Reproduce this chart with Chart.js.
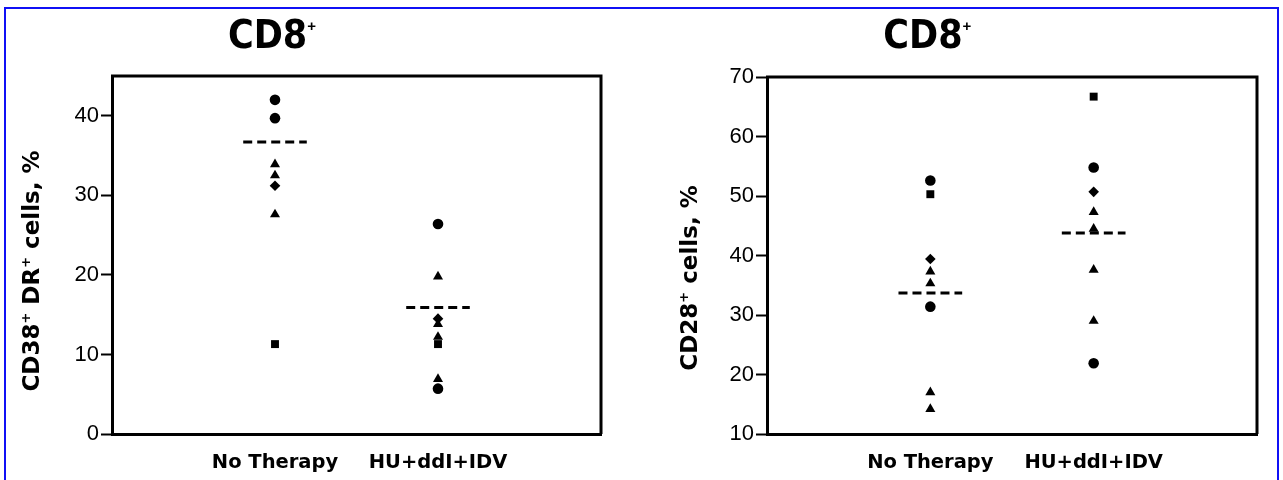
<!DOCTYPE html>
<html><head><meta charset="utf-8">
<script src="https://cdn.jsdelivr.net/npm/chart.js@4/dist/chart.umd.min.js"></script>
<style>
html,body{margin:0;padding:0;background:#fff;width:1283px;height:480px;overflow:hidden;}
#frame{position:absolute;left:4px;top:7px;width:1271px;height:490px;border:2px solid #1010f5;border-bottom:none;pointer-events:none;}
canvas{position:absolute;top:0;}
#c1{left:0}
#c2{left:640px}
</style></head><body>
<canvas id="c1" width="640" height="480"></canvas>
<canvas id="c2" width="643" height="480"></canvas>
<div id="frame"></div>
<script>
// ---------- data ----------
const categories = ['No Therapy', 'HU+ddI+IDV'];
const panelTitle = 'CD8';

// Panel 1: CD38+ DR+ cells, %   (each: [No Therapy values], [HU+ddI+IDV values])
const cd38Ticks     = [0, 10, 20, 30, 40];
const cd38Circles   = [[42.0, 39.7], [26.4, 5.7]];
const cd38Triangles = [[33.9, 32.5, 27.6], [19.8, 13.8, 12.2, 6.9]];
const cd38Diamonds  = [[31.2], [14.5]];
const cd38Squares   = [[11.3], [11.3]];
const cd38Medians   = [36.7, 15.9];

// Panel 2: CD28+ cells, %
const cd28Ticks     = [10, 20, 30, 40, 50, 60, 70];
const cd28Circles   = [[52.6, 31.4], [54.8, 21.9]];
const cd28Triangles = [[37.3, 35.3, 17.0, 14.2], [47.3, 44.5, 37.6, 29.0]];
const cd28Diamonds  = [[39.4], [50.7]];
const cd28Squares   = [[50.3], [66.7]];
const cd28Medians   = [33.7, 43.8];

// ---------- helpers ----------
const TICK_FONT = '"Liberation Sans", Arial, sans-serif';
const BOLD_FONT = '"DejaVu Sans", sans-serif';
const MEDIAN_HALF = 0.195;

function toPoints(groups) {
  const pts = [];
  groups.forEach((vals, i) => vals.forEach(v => pts.push({x: i + 1, y: v})));
  return pts;
}

function drawRich(ctx, parts, font, supFont, supRise) {
  let total = 0;
  parts.forEach(p => { ctx.font = p[1] ? supFont : font; total += ctx.measureText(p[0]).width; });
  let x = -total / 2;
  parts.forEach(p => {
    ctx.font = p[1] ? supFont : font;
    ctx.fillText(p[0], x, p[1] ? -supRise : 0);
    x += ctx.measureText(p[0]).width;
  });
}

function makeChart(canvasId, o) {
  const markerDs = (groups, style, r) => ({
    type: 'scatter', data: toPoints(groups), pointStyle: style, pointRadius: r,
    backgroundColor: '#000', borderColor: '#000', borderWidth: 0, pointHoverRadius: r
  });
  const medianDs = o.medians.map((m, i) => ({
    type: 'line', data: [{x: i + 1 - MEDIAN_HALF, y: m}, {x: i + 1 + MEDIAN_HALF, y: m}],
    borderColor: '#000', borderWidth: 3, borderDash: [9, 5], pointRadius: 0, fill: false
  }));

  const deco = {
    id: 'deco',
    beforeDatasetsDraw(chart) {
      const {ctx, chartArea: a} = chart;
      ctx.save();
      ctx.strokeStyle = '#000'; ctx.lineWidth = 3;
      ctx.beginPath();
      ctx.moveTo(a.left - 1, a.top); ctx.lineTo(a.right, a.top); ctx.lineTo(a.right, a.bottom);
      ctx.stroke();
      ctx.restore();
    },
    afterDraw(chart) {
      const ctx = chart.ctx;
      const xs = chart.scales.x;
      ctx.save();
      ctx.fillStyle = '#000';
      ctx.textBaseline = 'alphabetic';
      // panel title
      ctx.translate(xs.getPixelForValue(1) - 3, 48);
      drawRich(ctx, [[panelTitle, false], ['+', true]], 'bold 39px "DejaVu Sans Condensed", "Liberation Sans", sans-serif',
               'bold 15px "Liberation Sans", Arial, sans-serif', 17);
      ctx.restore();
      // y axis title
      ctx.save();
      ctx.fillStyle = '#000';
      ctx.translate(o.ytitleX, o.ytitleY);
      ctx.rotate(-Math.PI / 2);
      ctx.translate(0, 8);
      drawRich(ctx, o.ytitle, 'bold 23px ' + BOLD_FONT, 'bold 13px ' + BOLD_FONT, 9);
      ctx.restore();
    }
  };

  return new Chart(document.getElementById(canvasId), {
    data: {
      datasets: [
        markerDs(o.circles, 'circle', 5.3),
        markerDs(o.triangles, 'triangle', 5.8),
        markerDs(o.diamonds, 'rectRot', 5.3),
        markerDs(o.squares, 'rect', 5.6),
        ...medianDs
      ]
    },
    options: {
      responsive: false, animation: false, devicePixelRatio: 1,
      layout: {padding: {left: 0, right: o.padRight, top: o.padTop, bottom: 0}},
      plugins: {legend: {display: false}, tooltip: {enabled: false}, title: {display: false}},
      scales: {
        x: {
          type: 'linear', min: 0, max: 3,
          afterBuildTicks: ax => { ax.ticks = categories.map((c, i) => ({value: i + 1})); },
          afterFit: sc => { sc.height = 46; },
          ticks: {
            callback: v => categories[v - 1] || '', autoSkip: false, maxRotation: 0,
            font: {family: BOLD_FONT, size: 19.5, weight: 'bold'}, color: '#000', padding: 17
          },
          grid: {display: true, drawOnChartArea: false, drawTicks: false},
          border: {display: true, color: '#000', width: 3}
        },
        y: {
          type: 'linear', min: o.ymin, max: o.ymax,
          afterBuildTicks: ax => { ax.ticks = o.ticks.map(v => ({value: v})); },
          afterFit: sc => { sc.width = o.yWidth; },
          ticks: {font: {family: TICK_FONT, size: 22}, color: '#000', padding: 2},
          grid: {display: true, drawOnChartArea: false, drawTicks: true, tickLength: 11,
                 tickWidth: 2, tickColor: '#000', color: '#000'},
          border: {display: true, color: '#000', width: 3}
        }
      }
    },
    plugins: [deco]
  });
}

makeChart('c1', {
  circles: cd38Circles, triangles: cd38Triangles, diamonds: cd38Diamonds, squares: cd38Squares,
  medians: cd38Medians, ticks: cd38Ticks, ymin: 0, ymax: 45,
  padRight: 39, padTop: 76, yWidth: 112,
  ytitle: [['CD38', false], ['+', true], [' DR', false], ['+', true], [' cells, %', false]],
  ytitleX: 31, ytitleY: 271
});

makeChart('c2', {
  circles: cd28Circles, triangles: cd28Triangles, diamonds: cd28Diamonds, squares: cd28Squares,
  medians: cd28Medians, ticks: cd28Ticks, ymin: 10, ymax: 70,
  padRight: 26, padTop: 77, yWidth: 127,
  ytitle: [['CD28', false], ['+', true], [' cells, %', false]],
  ytitleX: 49, ytitleY: 278
});
</script>
</body></html>
